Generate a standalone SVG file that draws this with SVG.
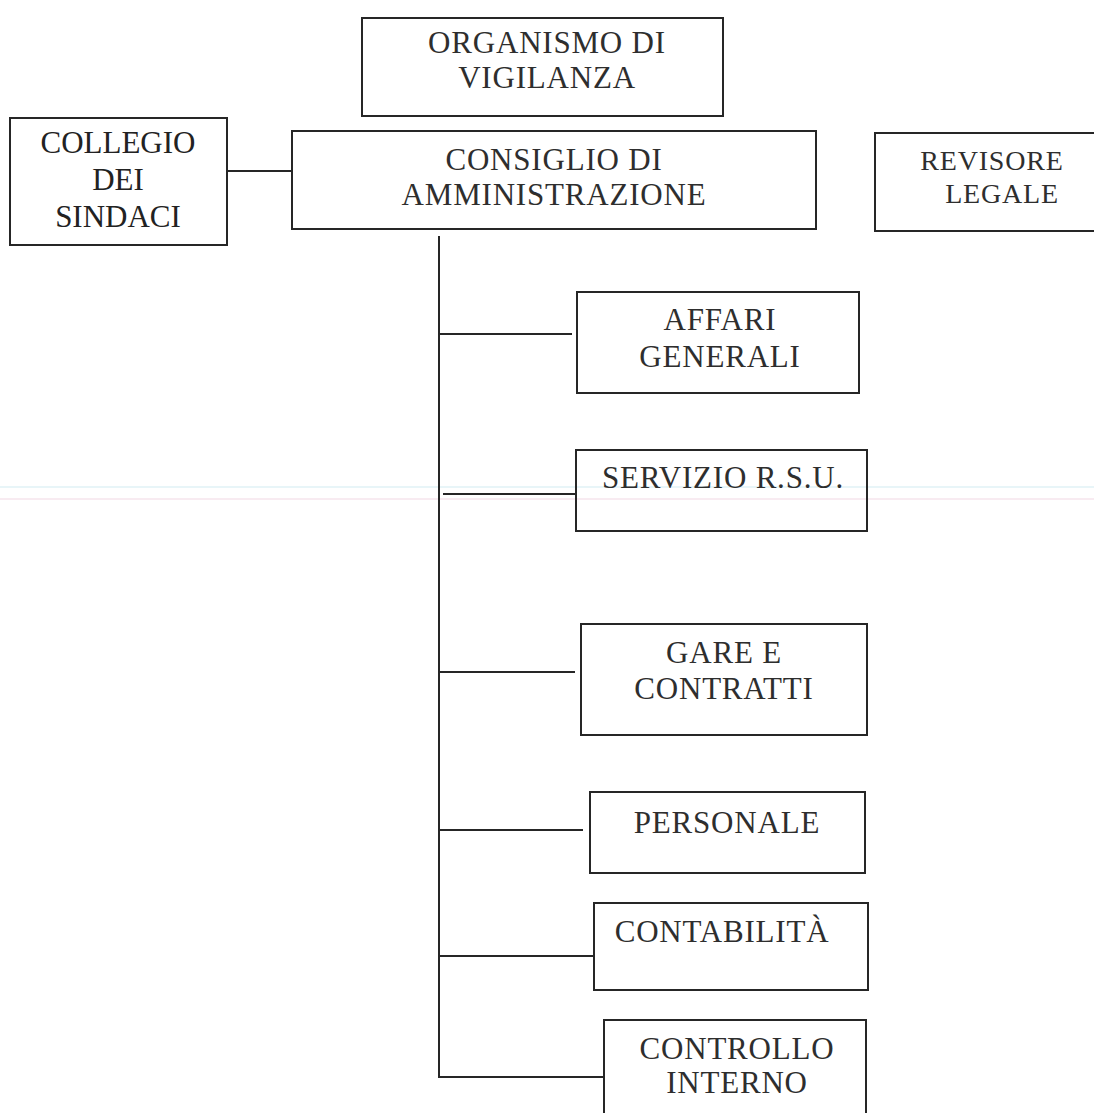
<svg xmlns="http://www.w3.org/2000/svg" width="1094" height="1113" viewBox="0 0 1094 1113">
<style>
.box{fill:none;stroke:#262626;stroke-width:2}
.lbl{font-family:"Liberation Serif","Times New Roman",serif;font-size:31px;letter-spacing:0.8px;fill:#2e2e2e;text-anchor:middle}
.tnr{font-size:31px;letter-spacing:0;fill:#222}
.conn{stroke:#262626;stroke-width:2;fill:none}
</style>
<rect width="1094" height="1113" fill="#ffffff"/>
<g id="scan-artifact" opacity="0.35">
<rect x="0" y="486" width="1094" height="2" fill="#bfe3ec"/>
<rect x="0" y="498" width="1094" height="2" fill="#ecc8d8"/>
</g>
<g id="connectors">
<line class="conn" x1="227" y1="171" x2="292" y2="171"/>
<polyline class="conn" points="439,236 439,1077 604,1077"/>
<line class="conn" x1="439" y1="334" x2="572" y2="334"/>
<line class="conn" x1="443" y1="494" x2="576" y2="494"/>
<line class="conn" x1="439" y1="672" x2="575" y2="672"/>
<line class="conn" x1="439" y1="830" x2="583" y2="830"/>
<line class="conn" x1="439" y1="956" x2="594" y2="956"/>
</g>
<g id="organismo">
<rect class="box" x="362" y="18" width="361" height="98"/>
<text class="lbl" x="547" y="53">ORGANISMO DI</text>
<text class="lbl" x="547" y="88">VIGILANZA</text>
</g>
<g id="collegio">
<rect class="box" x="10" y="118" width="217" height="127"/>
<text class="lbl tnr" x="118" y="153">COLLEGIO</text>
<text class="lbl tnr" x="118" y="190">DEI</text>
<text class="lbl tnr" x="118" y="227">SINDACI</text>
</g>
<g id="consiglio">
<rect class="box" x="292" y="131" width="524" height="98"/>
<text class="lbl" x="554" y="170">CONSIGLIO DI</text>
<text class="lbl" x="554" y="205">AMMINISTRAZIONE</text>
</g>
<g id="revisore">
<rect class="box" x="875" y="133" width="230" height="98"/>
<text class="lbl" x="992" y="170" style="font-size:28px">REVISORE</text>
<text class="lbl" x="1002" y="203" style="font-size:28px">LEGALE</text>
</g>
<g id="affari">
<rect class="box" x="577" y="292" width="282" height="101"/>
<text class="lbl" x="720" y="330">AFFARI</text>
<text class="lbl" x="720" y="367">GENERALI</text>
</g>
<g id="servizio">
<rect class="box" x="576" y="450" width="291" height="81"/>
<text class="lbl" x="723" y="488">SERVIZIO R.S.U.</text>
</g>
<g id="gare">
<rect class="box" x="581" y="624" width="286" height="111"/>
<text class="lbl" x="724" y="663">GARE E</text>
<text class="lbl" x="724" y="699">CONTRATTI</text>
</g>
<g id="personale">
<rect class="box" x="590" y="792" width="275" height="81"/>
<text class="lbl" x="727" y="833">PERSONALE</text>
</g>
<g id="contabilita">
<rect class="box" x="594" y="903" width="274" height="87"/>
<text class="lbl" x="722" y="942">CONTABILITÀ</text>
</g>
<g id="controllo">
<rect class="box" x="604" y="1020" width="262" height="110"/>
<text class="lbl" x="737" y="1059">CONTROLLO</text>
<text class="lbl" x="737" y="1093">INTERNO</text>
</g>
</svg>
